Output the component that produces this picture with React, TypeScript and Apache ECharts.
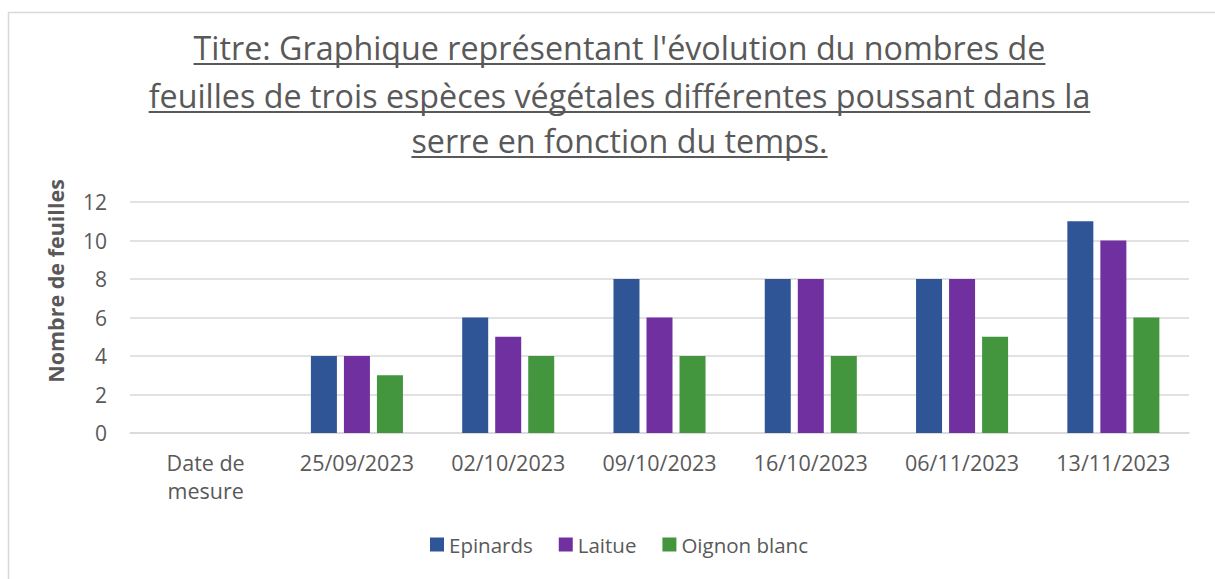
import React, { useEffect, useRef } from "react";
import * as echarts from "echarts";

const categories = ["Date de\nmesure", "25/09/2023", "02/10/2023", "09/10/2023", "16/10/2023", "06/11/2023", "13/11/2023"];
const epinards = [null, 4, 6, 8, 8, 8, 11];
const laitue = [null, 4, 5, 6, 8, 8, 10];
const oignon = [null, 3, 4, 4, 4, 5, 6];
const titleLines = [
  "Titre: Graphique représentant l'évolution du nombres de",
  "feuilles de trois espèces végétales différentes poussant dans la",
  "serre en fonction du temps.",
];
const yAxisName = "Nombre de feuilles";

const FONT = "'Open Sans', 'Noto Sans', sans-serif";
const TEXT = "#595959";

function measure(text: string, size: number, weight = "normal") {
  const c = document.createElement("canvas");
  const ctx = c.getContext("2d")!;
  ctx.font = `${weight} ${size}px 'Open Sans'`;
  return ctx.measureText(text).width;
}

export default function App() {
  const ref = useRef<HTMLDivElement>(null);
  useEffect(() => {
    document.body.style.margin = "0";
    const chart = echarts.init(ref.current!, undefined, { renderer: "svg" });
    const draw = () => {
      const base = measure(titleLines[1], 100);
      const tSize = Math.max(20, Math.min(34, (100 * 942) / (base || 3600)));
      const cx = 619.5;
      const lineY = [47, 95, 140];
      const graphics: any[] = [
        {
          type: "rect",
          shape: { x: 8.5, y: 12.5, width: 1400, height: 800 },
          style: { fill: "none", stroke: "#d9d9d9", lineWidth: 1.5 },
          silent: true,
        },
        {
          type: "text",
          x: 55,
          y: 281,
          rotation: Math.PI / 2,
          style: {
            text: yAxisName,
            fill: TEXT,
            font: `bold 21.5px ${FONT}`,
            align: "center",
            verticalAlign: "middle",
          },
        },
      ];
      titleLines.forEach((t, i) => {
        const w = measure(t, tSize);
        graphics.push({
          type: "text",
          x: cx,
          y: lineY[i],
          style: { text: t, fill: TEXT, font: `${tSize}px ${FONT}`, align: "center", verticalAlign: "middle" },
        });
        graphics.push({
          type: "line",
          shape: { x1: cx - w / 2, y1: lineY[i] + 17, x2: cx + w / 2, y2: lineY[i] + 17 },
          style: { stroke: TEXT, lineWidth: 2 },
        });
      });
      chart.setOption({
        animation: false,
        graphic: graphics,
        grid: { left: 130, right: 26, top: 202, bottom: 146, containLabel: false },
        legend: {
          bottom: 19,
          left: 425,
          itemWidth: 14,
          itemHeight: 14,
          itemGap: 26,
          icon: "rect",
          textStyle: { color: TEXT, fontSize: 20.5, fontFamily: FONT },
          data: ["Epinards", "Laitue", "Oignon blanc"],
        },
        xAxis: {
          type: "category",
          data: categories,
          axisLine: { lineStyle: { color: "#d9d9d9", width: 1.5 } },
          axisTick: { show: false },
          axisLabel: { color: TEXT, fontSize: 21.5, fontFamily: FONT, margin: 15, lineHeight: 28, interval: 0 },
        },
        yAxis: {
          type: "value",
          min: 0,
          max: 12,
          interval: 2,
          axisLine: { show: false },
          axisTick: { show: false },
          splitLine: { lineStyle: { color: "#d9d9d9", width: 1.5 } },
          axisLabel: { color: TEXT, fontSize: 21, fontFamily: FONT, margin: 23 },
        },
        series: [
          { name: "Epinards", type: "bar", data: epinards, barWidth: 26, barGap: "27%", itemStyle: { color: "#2F5597" } },
          { name: "Laitue", type: "bar", data: laitue, barWidth: 26, barGap: "27%", itemStyle: { color: "#7030A0" } },
          { name: "Oignon blanc", type: "bar", data: oignon, barWidth: 26, barGap: "27%", itemStyle: { color: "#43963E" } },
        ],
      });
    };
    draw();
    let cancelled = false;
    (document as any).fonts?.ready?.then(() => { if (!cancelled) draw(); });
    return () => { cancelled = true; chart.dispose(); };
  }, []);
  return <div ref={ref} style={{ width: 1215, height: 579 }} />;
}
